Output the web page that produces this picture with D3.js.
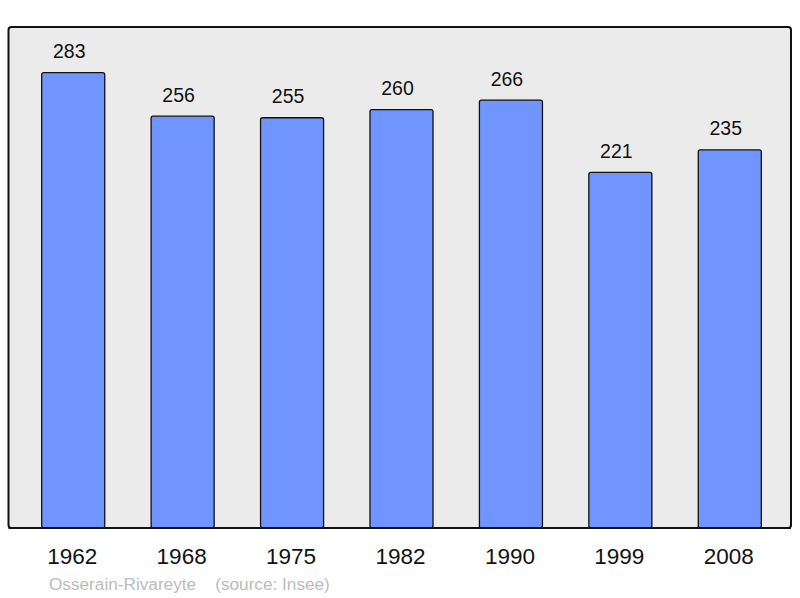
<html>
<head>
  <script type="text/javascript" src="https://d3js.org/d3.v7.min.js"></script>
  <style>
      body { margin: 0; background: #fff; font-family: "Liberation Sans", Arial, sans-serif; }
  </style>
</head>
<body>
<div id="chart"></div>
<script>
    const years = ["1962", "1968", "1975", "1982", "1990", "1999", "2008"];
    const population = [283, 256, 255, 260, 266, 221, 235];
    const footerName = "Osserain-Rivareyte";
    const footerSource = "(source: Insee)";

    const width = 800;
    const height = 598;
    const panel = {left: 8.5, top: 27, right: 791, bottom: 528};

    const svg = d3.select('#chart')
        .append('svg')
        .attr('width', width)
        .attr('height', height);

    // background panel
    svg.append("rect")
        .attr("x", panel.left)
        .attr("y", panel.top)
        .attr("width", panel.right - panel.left)
        .attr("height", panel.bottom - panel.top)
        .attr("rx", 3)
        .attr("fill", "#ebebeb")
        .attr("stroke", "#111")
        .attr("stroke-width", 2);

    const xScale = d3.scaleBand()
        .domain(years)
        .range([18.5, 784.5])
        .paddingInner(0.424)
        .paddingOuter(0.212);

    const yScale = d3.scaleLinear()
        .domain([0, 283])
        .range([panel.bottom, 72.7]);

    const data = years.map((y, i) => ({year: y, value: population[i]}));

    svg.selectAll(".bar")
        .data(data)
        .enter()
        .append("rect")
        .attr("class", "bar")
        .attr("x", d => xScale(d.year))
        .attr("y", d => yScale(d.value))
        .attr("width", xScale.bandwidth())
        .attr("height", d => panel.bottom - yScale(d.value))
        .attr("rx", 2)
        .attr("fill", "#7095ff")
        .attr("stroke", "#111")
        .attr("stroke-width", 1.3);

    // redraw bottom border over bar bottoms
    svg.append("line")
        .attr("x1", panel.left).attr("x2", panel.right)
        .attr("y1", panel.bottom).attr("y2", panel.bottom)
        .attr("stroke", "#111").attr("stroke-width", 2);

    // value labels sit a bit left of the bar centre
    svg.selectAll(".val")
        .data(data)
        .enter()
        .append("text")
        .attr("class", "val")
        .attr("x", d => xScale(d.year) + xScale.bandwidth() / 2 - 4)
        .attr("y", d => yScale(d.value) - 14.5)
        .attr("text-anchor", "middle")
        .attr("font-size", 19.5)
        .attr("fill", "#111")
        .text(d => d.value);

    svg.selectAll(".year")
        .data(years)
        .enter()
        .append("text")
        .attr("class", "year")
        .attr("x", d => xScale(d) + xScale.bandwidth() / 2 - 1)
        .attr("y", 564)
        .attr("text-anchor", "middle")
        .attr("font-size", 22.5)
        .attr("fill", "#111")
        .text(d => d);

    svg.append("text")
        .attr("x", 49)
        .attr("y", 590)
        .attr("font-size", 17.2)
        .attr("fill", "#bbb")
        .style("white-space", "pre")
        .text(footerName + "    " + footerSource);
</script>
</body>
</html>
